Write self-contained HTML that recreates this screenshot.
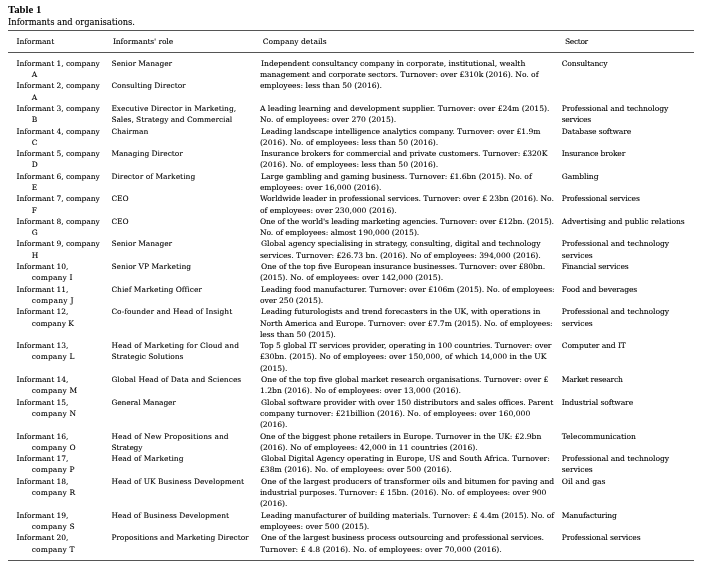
<!DOCTYPE html>
<html><head><meta charset="utf-8">
<style>
html,body{margin:0;padding:0;background:#fff;}
body{width:708px;height:571px;position:relative;overflow:hidden;font-family:"DejaVu Serif",serif;color:#000;}
.c1{position:absolute;left:8px;top:3.2px;font-family:"Liberation Serif",serif;font-size:10.75px;line-height:12px;font-weight:bold;}
.c2{position:absolute;left:8px;top:17px;font-size:8.22px;letter-spacing:0.045px;line-height:11px;text-shadow:0.25px 0 0 rgba(0,0,0,0.32);}
table{position:absolute;left:8px;top:30px;width:686px;border-collapse:collapse;table-layout:fixed;font-size:7.45px;line-height:11.29px;text-shadow:0.25px 0 0 rgba(0,0,0,0.32);}
td,th{padding:0;vertical-align:top;text-align:left;font-weight:normal;white-space:nowrap;}
thead tr{border-top:1px solid #555;border-bottom:1px solid #555;}
tbody tr.last{border-bottom:1px solid #555;}
th{padding-top:5.2px;padding-bottom:4.5px;font-size:7.45px;}
tbody tr.first td{padding-top:4.76px;}
tbody tr.last td{padding-bottom:5px;}
.k1{padding-left:8.5px;font-size:7.42px;}
.k2{font-size:7.4px;}
.d{font-size:7.53px;}
.k4{font-size:7.5px;}
.h2{padding-left:1.6px;}
.h3{padding-left:2.8px;}
.h4{padding-left:3.3px;}
.i{padding-left:15.2px;}
.s{padding-left:1.2px;}
</style></head><body>
<div class="c1">Table 1</div>
<div class="c2">Informants and organisations.</div>
<table>
<colgroup><col style="width:103.4px"><col style="width:148.5px"><col style="width:301.8px"><col style="width:132.3px"></colgroup>
<thead><tr><th class="k1"><span style="letter-spacing:0px">Informant</span></th><th class="h2"><span style="letter-spacing:-0.05px">Informants' role</span></th><th class="h3"><span style="letter-spacing:0.07px">Company details</span></th><th class="h4"><span style="letter-spacing:-0.3px">Sector</span></th></tr></thead>
<tbody>
<tr class="first"><td class="k1">Informant 1, company<br><span class="i">A</span></td><td class="k2">Senior Manager</td><td class="d"><span class="s" style="letter-spacing:0.014px">Independent consultancy company in corporate, institutional, wealth</span><br>management and corporate sectors. Turnover: over £310k (2016). No. of</td><td class="k4"><span style="letter-spacing:-0.120px">Consultancy</span></td></tr>
<tr><td class="k1">Informant 2, company<br><span class="i">A</span></td><td class="k2">Consulting Director</td><td class="d"><span style="letter-spacing:0.030px">employees: less than 50 (2016).</span></td><td class="k4"></td></tr>
<tr><td class="k1">Informant 3, company<br><span class="i">B</span></td><td class="k2"><span style="letter-spacing:0.029px">Executive Director in Marketing,</span><br>Sales, Strategy and Commercial</td><td class="d"><span style="letter-spacing:0.046px">A leading learning and development supplier. Turnover: over £24m (2015).</span><br><span style="letter-spacing:0.070px">No. of employees: over 270 (2015).</span></td><td class="k4"><span style="letter-spacing:-0.031px">Professional and technology</span><br><span style="letter-spacing:-0.228px">services</span></td></tr>
<tr><td class="k1">Informant 4, company<br><span class="i">C</span></td><td class="k2">Chairman</td><td class="d"><span class="s" style="letter-spacing:0.014px">Leading landscape intelligence analytics company. Turnover: over £1.9m</span><br><span style="letter-spacing:0.042px">(2016). No. of employees: less than 50 (2016).</span></td><td class="k4"><span style="letter-spacing:-0.100px">Database software</span></td></tr>
<tr><td class="k1">Informant 5, company<br><span class="i">D</span></td><td class="k2">Managing Director</td><td class="d"><span class="s" style="letter-spacing:-0.017px">Insurance brokers for commercial and private customers. Turnover: £320K</span><br><span style="letter-spacing:0.042px">(2016). No. of employees: less than 50 (2016).</span></td><td class="k4"><span style="letter-spacing:-0.153px">Insurance broker</span></td></tr>
<tr><td class="k1">Informant 6, company<br><span class="i">E</span></td><td class="k2"><span style="letter-spacing:0.070px">Director of Marketing</span></td><td class="d"><span class="s" style="letter-spacing:0.017px">Large gambling and gaming business. Turnover: £1.6bn (2015). No. of</span><br><span style="letter-spacing:0.031px">employees: over 16,000 (2016).</span></td><td class="k4">Gambling</td></tr>
<tr><td class="k1">Informant 7, company<br><span class="i">F</span></td><td class="k2">CEO</td><td class="d"><span style="letter-spacing:-0.015px">Worldwide leader in professional services. Turnover: over £ 23bn (2016). No.</span><br><span style="letter-spacing:0.052px">of employees: over 230,000 (2016).</span></td><td class="k4"><span style="letter-spacing:-0.100px">Professional services</span></td></tr>
<tr><td class="k1">Informant 8, company<br><span class="i">G</span></td><td class="k2">CEO</td><td class="d"><span style="letter-spacing:-0.056px">One of the world's leading marketing agencies. Turnover: over £12bn. (2015).</span><br>No. of employees: almost 190,000 (2015).</td><td class="k4"><span style="letter-spacing:0.032px">Advertising and public relations</span></td></tr>
<tr><td class="k1">Informant 9, company<br><span class="i">H</span></td><td class="k2">Senior Manager</td><td class="d"><span class="s" style="letter-spacing:0.014px">Global agency specialising in strategy, consulting, digital and technology</span><br><span style="letter-spacing:0.039px">services. Turnover: £26.73 bn. (2016). No of employees: 394,000 (2016).</span></td><td class="k4">Professional and technology<br>services</td></tr>
<tr><td class="k1">Informant 10,<br><span class="i" style="letter-spacing:0.213px">company I</span></td><td class="k2"><span style="letter-spacing:0.044px">Senior VP Marketing</span></td><td class="d"><span class="s">One of the top five European insurance businesses. Turnover: over £80bn.</span><br><span style="letter-spacing:0.060px">(2015). No. of employees: over 142,000 (2015).</span></td><td class="k4"><span style="letter-spacing:-0.100px">Financial services</span></td></tr>
<tr><td class="k1">Informant 11,<br><span class="i" style="letter-spacing:0.339px">company J</span></td><td class="k2"><span style="letter-spacing:0.036px">Chief Marketing Officer</span></td><td class="d"><span class="s" style="letter-spacing:-0.012px">Leading food manufacturer. Turnover: over £106m (2015). No. of employees:</span><br>over 250 (2015).</td><td class="k4"><span style="letter-spacing:-0.065px">Food and beverages</span></td></tr>
<tr><td class="k1">Informant 12,<br><span class="i" style="letter-spacing:0.074px">company K</span></td><td class="k2"><span style="letter-spacing:0.072px">Co-founder and Head of Insight</span></td><td class="d"><span class="s">Leading futurologists and trend forecasters in the UK, with operations in</span><br><span style="letter-spacing:0.017px">North America and Europe. Turnover: over £7.7m (2015). No. of employees:</span><br>less than 50 (2015).</td><td class="k4">Professional and technology<br>services</td></tr>
<tr><td class="k1">Informant 13,<br><span class="i" style="letter-spacing:0.200px">company L</span></td><td class="k2"><span style="letter-spacing:0.097px">Head of Marketing for Cloud and</span><br>Strategic Solutions</td><td class="d"><span style="letter-spacing:-0.011px">Top 5 global IT services provider, operating in 100 countries. Turnover: over</span><br><span style="letter-spacing:0.067px">£30bn. (2015). No of employees: over 150,000, of which 14,000 in the UK</span><br>(2015).</td><td class="k4"><span style="letter-spacing:-0.050px">Computer and IT</span></td></tr>
<tr><td class="k1">Informant 14,<br><span class="i" style="letter-spacing:0.200px">company M</span></td><td class="k2"><span style="letter-spacing:0.065px">Global Head of Data and Sciences</span></td><td class="d"><span class="s" style="letter-spacing:0.032px">One of the top five global market research organisations. Turnover: over £</span><br><span style="letter-spacing:0.071px">1.2bn (2016). No of employees: over 13,000 (2016).</span></td><td class="k4"><span style="letter-spacing:-0.171px">Market research</span></td></tr>
<tr><td class="k1">Informant 15,<br><span class="i" style="letter-spacing:0.200px">company N</span></td><td class="k2"><span style="letter-spacing:-0.100px">General Manager</span></td><td class="d"><span class="s">Global software provider with over 150 distributors and sales offices. Parent</span><br><span style="letter-spacing:0.067px">company turnover: £21billion (2016). No. of employees: over 160,000</span><br>(2016).</td><td class="k4"><span style="letter-spacing:-0.067px">Industrial software</span></td></tr>
<tr><td class="k1">Informant 16,<br><span class="i" style="letter-spacing:0.200px">company O</span></td><td class="k2"><span style="letter-spacing:0.107px">Head of New Propositions and</span><br><span style="letter-spacing:-0.186px">Strategy</span></td><td class="d"><span style="letter-spacing:0.013px">One of the biggest phone retailers in Europe. Turnover in the UK: £2.9bn</span><br><span style="letter-spacing:0.070px">(2016). No of employees: 42,000 in 11 countries (2016).</span></td><td class="k4">Telecommunication</td></tr>
<tr><td class="k1">Informant 17,<br><span class="i" style="letter-spacing:0.200px">company P</span></td><td class="k2"><span style="letter-spacing:0.062px">Head of Marketing</span></td><td class="d"><span class="s" style="letter-spacing:0.022px">Global Digital Agency operating in Europe, US and South Africa. Turnover:</span><br><span style="letter-spacing:0.089px">£38m (2016). No. of employees: over 500 (2016).</span></td><td class="k4">Professional and technology<br>services</td></tr>
<tr><td class="k1">Informant 18,<br><span class="i" style="letter-spacing:0.200px">company R</span></td><td class="k2"><span style="letter-spacing:0.060px">Head of UK Business Development</span></td><td class="d"><span class="s" style="letter-spacing:0.019px">One of the largest producers of transformer oils and bitumen for paving and</span><br><span style="letter-spacing:0.038px">industrial purposes. Turnover: £ 15bn. (2016). No. of employees: over 900</span><br>(2016).</td><td class="k4"><span style="letter-spacing:0.080px">Oil and gas</span></td></tr>
<tr><td class="k1">Informant 19,<br><span class="i" style="letter-spacing:0.200px">company S</span></td><td class="k2"><span style="letter-spacing:0.033px">Head of Business Development</span></td><td class="d"><span class="s" style="letter-spacing:-0.003px">Leading manufacturer of building materials. Turnover: £ 4.4m (2015). No. of</span><br><span style="letter-spacing:0.031px">employees: over 500 (2015).</span></td><td class="k4"><span style="letter-spacing:-0.134px">Manufacturing</span></td></tr>
<tr class="last"><td class="k1">Informant 20,<br><span class="i" style="letter-spacing:0.200px">company T</span></td><td class="k2"><span style="letter-spacing:-0.024px">Propositions and Marketing Director</span></td><td class="d"><span class="s" style="letter-spacing:-0.029px">One of the largest business process outsourcing and professional services.</span><br><span style="letter-spacing:0.076px">Turnover: £ 4.8 (2016). No. of employees: over 70,000 (2016).</span></td><td class="k4"><span style="letter-spacing:-0.060px">Professional services</span></td></tr>
</tbody>
</table>
</body></html>
